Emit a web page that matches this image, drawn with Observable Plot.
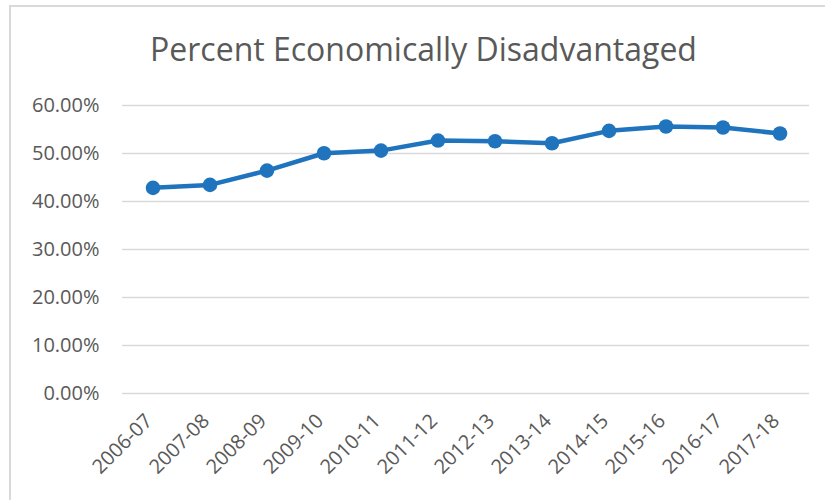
<!DOCTYPE html>
<html>
<head>
<meta charset="utf-8">
<script src="https://cdn.jsdelivr.net/npm/d3@7"></script>
<script src="https://cdn.jsdelivr.net/npm/@observablehq/plot@0.6"></script>
<style>
  html, body { margin: 0; padding: 0; background: #fff; width: 825px; height: 500px; overflow: hidden; }
  #frame { position: absolute; left: 9px; top: 5px; width: 900px; height: 600px; border: 2px solid #d9d9d9; box-sizing: border-box; }
  #title { position: absolute; left: 0; top: 33px; width: 847px; text-align: center; font-family: "Open Sans", sans-serif; font-size: 32px; line-height: 32px; color: #595959; white-space: nowrap; }
  #chart { position: absolute; left: 0; top: 80px; }
</style>
</head>
<body>
<div id="frame"></div>
<div id="title">Percent Economically Disadvantaged</div>
<div id="chart"></div>
<script>
const years = ["2006-07","2007-08","2008-09","2009-10","2010-11","2011-12","2012-13","2013-14","2014-15","2015-16","2016-17","2017-18"];
const percents = [0.4284, 0.4346, 0.4644, 0.5005, 0.5060, 0.5270, 0.5255, 0.5214, 0.5472, 0.5562, 0.5541, 0.5416];
const yTicks = [0, 0.1, 0.2, 0.3, 0.4, 0.5, 0.6];

const data = years.map((y, i) => ({year: y, value: percents[i]}));
const blue = "#1f74bd";
const textColor = "#595959";
const fs = 20;

const chart = Plot.plot({
  width: 825,
  height: 420,
  marginLeft: 122,
  marginRight: 16,
  marginTop: 25,
  marginBottom: 107,
  style: {fontFamily: "Open Sans, sans-serif", fontSize: fs + "px", background: "transparent"},
  x: {type: "band", domain: years, padding: 0, label: null},
  y: {domain: [0, 0.6], label: null},
  marks: [
    Plot.gridY(yTicks, {stroke: "#d9d9d9", strokeOpacity: 1, strokeWidth: 1.5}),
    Plot.axisY(yTicks, {tickSize: 0, tickPadding: 23, fontSize: fs, fill: textColor, label: null,
      tickFormat: d => (d * 100).toFixed(2) + "%"}),
    Plot.axisX({tickSize: 0, tickRotate: -45, tickPadding: 24, dx: -4, fontSize: fs, fill: textColor, label: null}),
    Plot.line(data, {x: "year", y: "value", stroke: blue, strokeWidth: 4.5}),
    Plot.dot(data, {x: "year", y: "value", r: 7.3, fill: blue, stroke: "none"})
  ]
});
document.getElementById("chart").appendChild(chart);
</script>
</body>
</html>
